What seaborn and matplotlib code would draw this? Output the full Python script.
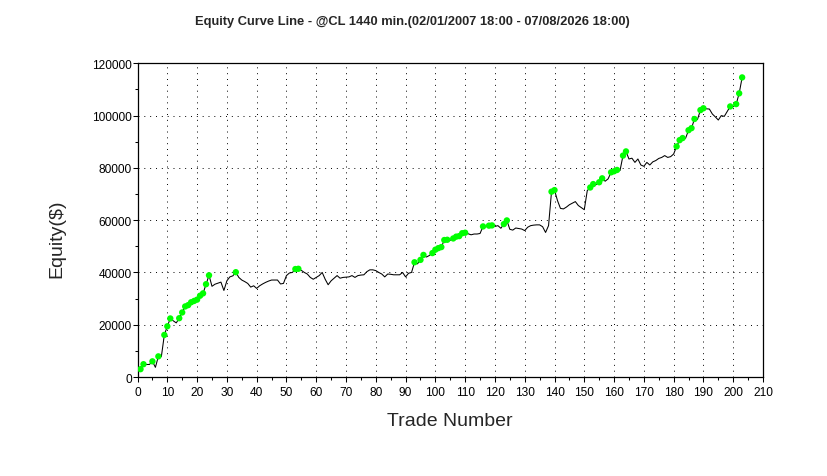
import pandas as pd
import matplotlib
matplotlib.use("Agg")
import matplotlib.pyplot as plt
import seaborn as sns
from matplotlib.ticker import MultipleLocator, FuncFormatter

title = "Equity Curve Line - @CL 1440 min.(02/01/2007 18:00 - 07/08/2026 18:00)"

trade_numbers = list(range(1, 204))
equity = [
    3000, 4900, 4800, 4800, 6000, 3700, 7900, 7800, 16100, 19400,
    22400, 21500, 20700, 22500, 24700, 27000, 27500, 28600, 29100, 29600,
    31100, 32000, 35500, 38900, 34700, 35500, 35900, 36300, 33100, 36800,
    38300, 38700, 40100, 38100, 37100, 36500, 35800, 34400, 34900, 33900,
    34900, 35600, 36200, 36700, 37100, 37100, 37100, 35600, 35800, 38800,
    39800, 40000, 41300, 41400, 40800, 40000, 39400, 38100, 37400, 38100,
    38800, 40000, 37400, 35300, 36800, 37800, 38800, 37800, 38100, 38200,
    38300, 38800, 38100, 38800, 39000, 39100, 40300, 41000, 41000, 40700,
    40000, 39400, 38300, 39400, 39300, 39100, 39100, 39100, 40000, 38300,
    39700, 40000, 43900, 43300, 44800, 46700, 45900, 46500, 47400, 48700,
    49300, 49700, 52400, 52500, 52300, 53000, 53700, 53900, 55000, 55200,
    54800, 54400, 54700, 54700, 54900, 57600, 57500, 57900, 58000, 57600,
    57900, 56900, 58500, 59900, 56500, 56200, 57000, 56800, 56600, 56000,
    57300, 57900, 58100, 58200, 58200, 57500, 55300, 57900, 70900, 71500,
    67500, 64500, 64300, 65000, 65900, 66500, 67100, 65600, 64800, 64000,
    71300, 72500, 73800, 73600, 74500, 76000, 74900, 75800, 78300, 78700,
    79200, 79000, 84700, 86300, 83400, 83700, 82100, 83400, 81100, 80600,
    82100, 81100, 82300, 82800, 83600, 84000, 84700, 84000, 84300, 85300,
    88200, 90600, 91400, 91300, 94400, 95200, 98700, 98500, 102100, 102800,
    102600, 102500, 100600, 99500, 98300, 100000, 99700, 101600, 103500, 103400,
    104400, 108500, 114600,
]

df = pd.DataFrame({"Trade": trade_numbers, "Equity": equity})
# green dots mark new equity highs
df["NewHigh"] = df["Equity"] > df["Equity"].cummax().shift(fill_value=0)

sns.set_style("ticks")
plt.rcParams["font.family"] = ["Liberation Sans", "DejaVu Sans"]

fig = plt.figure(figsize=(8.27, 4.77), dpi=100)
ax = fig.add_axes([0.1663, 0.2075, 0.7563, 0.6577])

sns.lineplot(data=df, x="Trade", y="Equity", estimator=None, color="black",
             linewidth=0.75, ax=ax)
sns.scatterplot(data=df[df["NewHigh"]], x="Trade", y="Equity", color="#00ff00",
                s=21, edgecolor="none", linewidth=0, ax=ax, zorder=3)

ax.set_xlim(0, 210)
ax.set_ylim(0, 120000)
ax.xaxis.set_major_locator(MultipleLocator(10))
ax.xaxis.set_minor_locator(MultipleLocator(5))
ax.yaxis.set_major_locator(MultipleLocator(20000))
ax.yaxis.set_minor_locator(MultipleLocator(10000))
ax.yaxis.set_major_formatter(FuncFormatter(lambda v, p: f"{int(v)}"))

ax.grid(True, which="major", color="black", linestyle=(0, (1, 5)), linewidth=0.7)

for sp in ax.spines.values():
    sp.set_visible(True)
    sp.set_color("black")
    sp.set_linewidth(0.9)

ax.tick_params(which="both", direction="out", color="black", width=0.75,
               labelsize=8.6, labelcolor="black", top=False, right=False)
ax.tick_params(which="major", length=3.3)
ax.tick_params(which="minor", length=2.2)
ax.tick_params(axis="y", pad=0.8)
ax.tick_params(axis="x", pad=3.5)

ax.set_xlabel("Trade Number", fontsize=14)
ax.set_ylabel("Equity($)", fontsize=14)
ax.xaxis.set_label_coords(0.5, -0.112)
ax.yaxis.set_label_coords(-0.116, 0.445)

fig.text(412.5 / 827, 1 - 22 / 477, title, ha="center", va="center",
         fontsize=9.3, fontweight="bold")

fig.savefig("out.png", dpi=100)
